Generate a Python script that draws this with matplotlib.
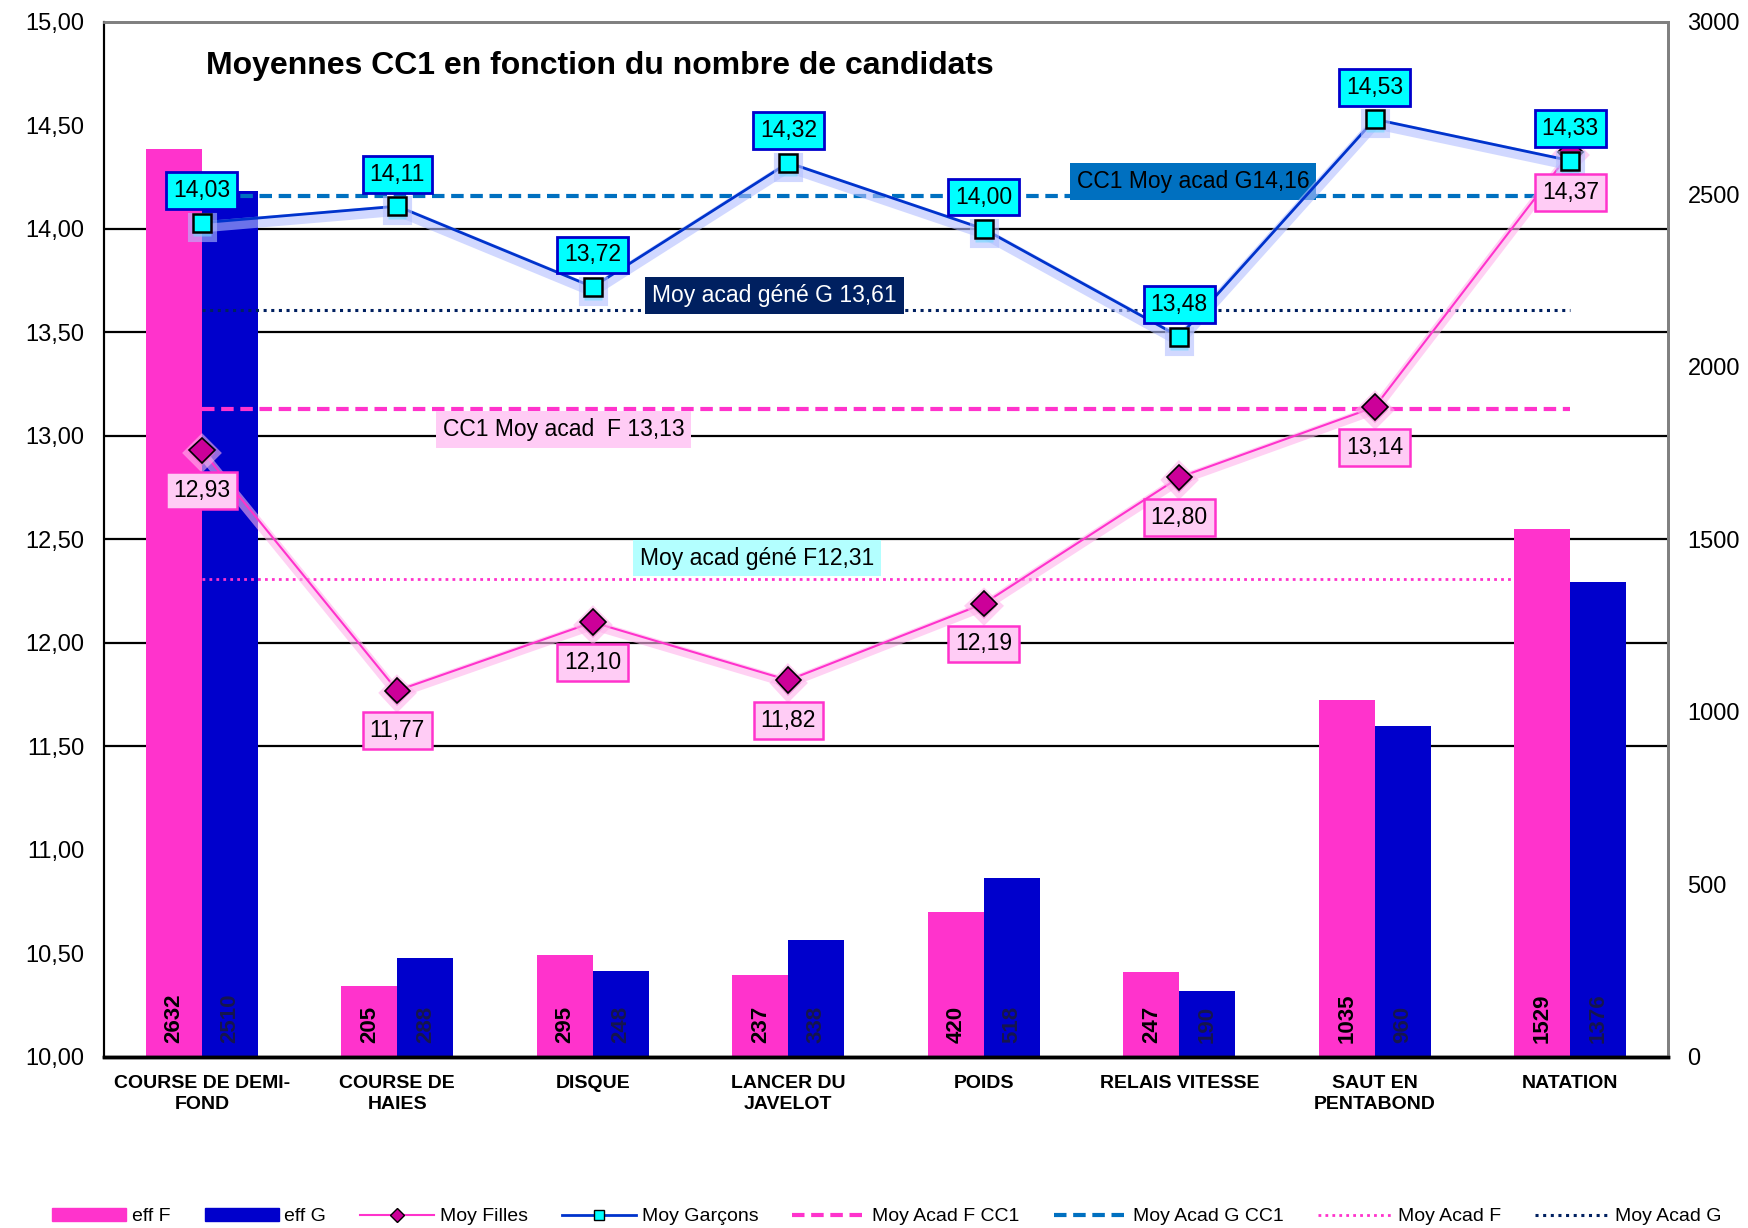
import matplotlib
matplotlib.use('Agg')
import matplotlib.pyplot as plt
import matplotlib.patheffects as pe
from matplotlib.transforms import blended_transform_factory
from matplotlib.ticker import FuncFormatter, MultipleLocator
from matplotlib.lines import Line2D
from matplotlib.patches import Patch
import numpy as np

plt.rcParams['font.family'] = ['Liberation Sans', 'DejaVu Sans']

# données
categories = ['COURSE DE DEMI-\nFOND', 'COURSE DE\nHAIES', 'DISQUE', 'LANCER DU\nJAVELOT',
              'POIDS', 'RELAIS VITESSE', 'SAUT EN\nPENTABOND', 'NATATION']
eff_f = [2632, 205, 295, 237, 420, 247, 1035, 1529]
eff_g = [2510, 288, 248, 338, 518, 190, 960, 1376]
moy_filles = [12.93, 11.77, 12.10, 11.82, 12.19, 12.80, 13.14, 14.37]
moy_garcons = [14.03, 14.11, 13.72, 14.32, 14.00, 13.48, 14.53, 14.33]
acad_f_cc1 = 13.13
acad_g_cc1 = 14.16
acad_f = 12.31
acad_g = 13.61
grid_vals = [11.5, 12.0, 12.5, 13.0, 13.5, 14.0]

PINK = '#FF33CC'
BLUE = '#0000CC'

fig = plt.figure(figsize=(17.49, 12.28), dpi=100)
ax = fig.add_axes([0.0595, 0.1393, 0.8942, 0.8428])
ax2 = ax.twinx()
# barres derrière les courbes
ax.set_zorder(ax2.get_zorder() + 1)
ax.patch.set_visible(False)
ax2.patch.set_visible(True)
ax2.patch.set_facecolor('white')

x = np.arange(len(categories))
w = 0.286

# quadrillage (échelle de gauche) derrière les barres
trans = blended_transform_factory(ax2.transAxes, ax.transData)
for v in grid_vals:
    ax2.plot([0, 1], [v, v], color='black', lw=1.6, transform=trans, zorder=0)

bf = ax2.bar(x - w / 2, eff_f, w, color=PINK, zorder=2)
bg = ax2.bar(x + w / 2, eff_g, w, color=BLUE, zorder=2)
for i in range(len(x)):
    ax2.annotate(str(eff_f[i]), (x[i] - w / 2, 0), xytext=(0, 10), textcoords='offset points',
                 rotation=90, ha='center', va='bottom', fontsize=16, fontweight='bold',
                 color='black', zorder=3)
    ax2.annotate(str(eff_g[i]), (x[i] + w / 2, 0), xytext=(0, 10), textcoords='offset points',
                 rotation=90, ha='center', va='bottom', fontsize=16, fontweight='bold',
                 color='#16164d', zorder=3)
ax2.set_ylim(0, 3000)
ax2.yaxis.set_major_locator(MultipleLocator(500))

# lignes de référence
ax.plot([x[0], x[-1]], [acad_f_cc1] * 2, color=PINK, lw=3, ls=(0, (3, 1.6)), zorder=2)
ax.plot([x[0], x[-1]], [acad_g_cc1] * 2, color='#0070C0', lw=3, ls=(0, (3, 1.6)), zorder=2)
ax.plot([x[0], x[-1]], [acad_f] * 2, color=PINK, lw=2, ls=(0, (1, 1.5)), zorder=2)
ax.plot([x[0], x[-1]], [acad_g] * 2, color='#002060', lw=2.2, ls=(0, (1, 1.5)), zorder=2)

ax.text(5.07, 14.23, 'CC1 Moy acad G14,16', fontsize=16.5, ha='center', va='center', color='black',
        bbox=dict(boxstyle='square,pad=0.3', fc='#0070C0', ec='none'), zorder=3)
ax.text(2.93, 13.68, 'Moy acad géné G 13,61', fontsize=16.5, ha='center', va='center', color='white',
        bbox=dict(boxstyle='square,pad=0.3', fc='#002060', ec='none'), zorder=3)
ax.text(1.85, 13.03, 'CC1 Moy acad  F 13,13', fontsize=16.5, ha='center', va='center', color='black',
        bbox=dict(boxstyle='square,pad=0.3', fc='#FFCCF5', ec='none'), zorder=3)
ax.text(2.84, 12.41, 'Moy acad géné F12,31', fontsize=16.5, ha='center', va='center', color='black',
        bbox=dict(boxstyle='square,pad=0.3', fc='#B3FFFF', ec='none'), zorder=3)

# courbes
ax.plot(x, moy_filles, color=PINK, lw=1.5, marker='D', ms=13, mfc='#CC0099', mec='black', mew=1.2,
        zorder=5, path_effects=[pe.Stroke(offset=(0, -2), linewidth=7, foreground='#FFB3EC', alpha=0.6),
                                pe.Normal()])
ax.plot(x, moy_garcons, color='#0033CC', lw=2, marker='s', ms=13, mfc='#00FFFF', mec='black', mew=1.8,
        zorder=6, path_effects=[pe.Stroke(offset=(0, -3), linewidth=8, foreground='#B3BFFF', alpha=0.6),
                                pe.Normal()])

for i in range(len(x)):
    ax.annotate(f'{moy_filles[i]:.2f}'.replace('.', ','), (x[i], moy_filles[i]), xytext=(0, -29),
                textcoords='offset points', ha='center', va='center', fontsize=16.5,
                bbox=dict(boxstyle='square,pad=0.3', fc='#FFCCF5', ec=PINK, lw=1.8), zorder=7)
    ax.annotate(f'{moy_garcons[i]:.2f}'.replace('.', ','), (x[i], moy_garcons[i]), xytext=(0, 23),
                textcoords='offset points', ha='center', va='center', fontsize=16.5,
                bbox=dict(boxstyle='square,pad=0.3', fc='#00FFFF', ec=BLUE, lw=2), zorder=8)

ax.set_xlim(-0.5, 7.5)
ax.set_ylim(10, 15)
ax.yaxis.set_major_locator(MultipleLocator(0.5))
ax.yaxis.set_major_formatter(FuncFormatter(lambda v, p: f'{v:.2f}'.replace('.', ',')))
ax.set_xticks(x)
ax.set_xticklabels(categories, fontsize=14, fontweight='bold', linespacing=1.3)
ax.tick_params(axis='x', length=0, pad=13)
ax.tick_params(axis='y', length=0, pad=14, labelsize=17)
ax2.tick_params(axis='y', length=0, pad=14, labelsize=17)

for a in (ax, ax2):
    a.spines['top'].set_color('#808080')
    a.spines['right'].set_color('#808080')
    a.spines['left'].set_color('black')
    a.spines['bottom'].set_color('black')
    a.spines['left'].set_linewidth(1.5)
    a.spines['bottom'].set_linewidth(2.5)
    a.spines['top'].set_linewidth(2)
    a.spines['right'].set_linewidth(2)

ax.text(0.317, 0.957, 'Moyennes CC1 en fonction du nombre de candidats', transform=ax.transAxes,
        ha='center', va='center', fontsize=23, fontweight='bold', zorder=9)

handles = [
    Patch(color=PINK), Patch(color=BLUE),
    Line2D([], [], color=PINK, lw=1.5, marker='D', ms=7, mfc='#CC0099', mec='black'),
    Line2D([], [], color='#0033CC', lw=2, marker='s', ms=7, mfc='#00FFFF', mec='black'),
    Line2D([], [], color=PINK, lw=3, ls=(0, (3, 1.6))),
    Line2D([], [], color='#0070C0', lw=3, ls=(0, (3, 1.6))),
    Line2D([], [], color=PINK, lw=2, ls=(0, (1, 1.5))),
    Line2D([], [], color='#002060', lw=2.2, ls=(0, (1, 1.5))),
]
labels = ['eff F', 'eff G', 'Moy Filles', 'Moy Garçons', 'Moy Acad F CC1', 'Moy Acad G CC1',
          'Moy Acad F', 'Moy Acad G']
fig.legend(handles, labels, loc='lower center', bbox_to_anchor=(0.507, -0.009), ncol=8, frameon=False,
           fontsize=14, handlelength=3.8, handletextpad=0.3, columnspacing=1.75, borderpad=0.2)

fig.savefig('out.png', dpi=100, facecolor='white')
